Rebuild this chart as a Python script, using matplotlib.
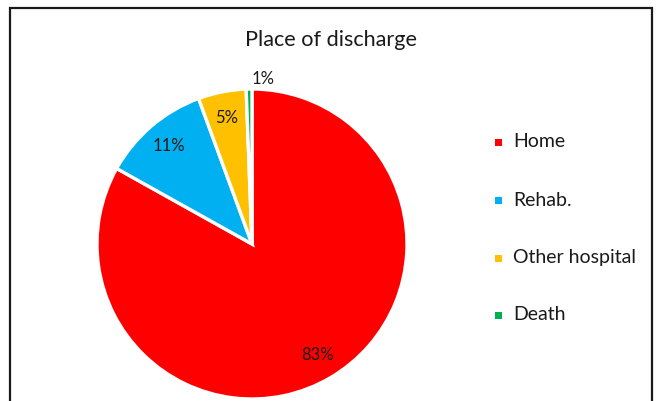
import matplotlib
matplotlib.use("Agg")
import matplotlib.pyplot as plt
from matplotlib.patches import Rectangle
import numpy as np

categories = ["Home", "Rehab.", "Other hospital", "Death"]
values = [83.1, 11.3, 5.0, 0.6]
colors = ["#FF0000", "#00B0F0", "#FFC000", "#00B050"]
title = "Place of discharge"

plt.rcParams['font.family'] = ['Lato', 'DejaVu Sans']

W, H = 658, 401
fig = plt.figure(figsize=(W / 100, H / 100), dpi=100)

# chart border
fig.add_artist(Rectangle((10 / W, -0.05), (652 - 10) / W, (H - 8) / H + 0.05,
                         transform=fig.transFigure, fill=False,
                         edgecolor="#1a1a1a", linewidth=1.6))

cx, cy, r = 252, 244, 155
ax = fig.add_axes([(cx - r) / W, (H - cy - r) / H, 2 * r / W, 2 * r / H])
wedges, texts, autotexts = ax.pie(
    values, colors=colors, startangle=90, counterclock=False,
    autopct="%1.0f%%", pctdistance=0.83,
    wedgeprops=dict(edgecolor="white", linewidth=2.4),
    textprops=dict(fontsize=12, color="#1a1a1a"))
ax.set_xlim(-1, 1)
ax.set_ylim(-1, 1)
ax.axis("off")

# small slice label placed outside
w = wedges[-1]
ang = np.deg2rad((w.theta1 + w.theta2) / 2 - 5)
autotexts[-1].set_position((1.07 * np.cos(ang), 1.07 * np.sin(ang)))

fig.text(331 / W, 1 - 40 / H, title, ha="center", va="center",
         fontsize=15.6, color="#1a1a1a")

# legend
rows = [142, 200, 258, 315]
for lab, col, y in zip(categories, colors, rows):
    fig.add_artist(Rectangle(((498 - 3.5) / W, 1 - (y + 3.5) / H), 7 / W, 7 / H,
                             transform=fig.transFigure, facecolor=col,
                             edgecolor="none"))
    fig.text(513 / W, 1 - y / H, lab, ha="left", va="center",
             fontsize=14, color="#1a1a1a")

fig.savefig("out.png", dpi=100)
